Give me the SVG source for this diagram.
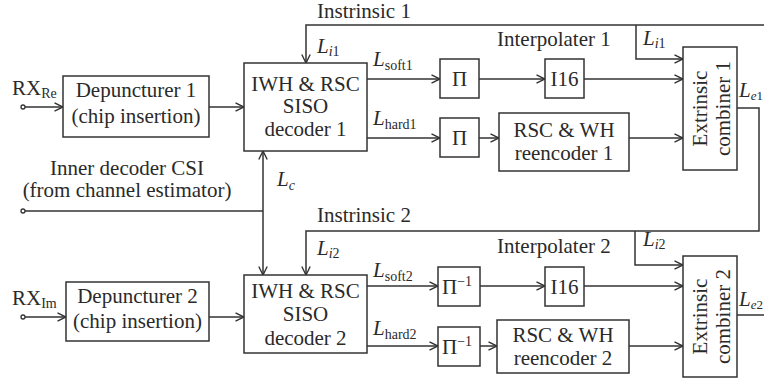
<svg xmlns="http://www.w3.org/2000/svg" width="764" height="381" viewBox="0 0 764 381" font-family="'Liberation Serif', 'DejaVu Serif', serif">
  <style>
    .box { fill: #ffffff; stroke: #333333; stroke-width: 1.5; }
    .w { fill: none; stroke: #333333; stroke-width: 1.5; }
    .a { marker-end: url(#arr); }
    .term { fill: #ffffff; stroke: #333333; stroke-width: 1.3; }
    text { font-family: 'Liberation Serif', 'DejaVu Serif', serif; font-size: 21px; fill: #2a2a2a; }
    .c { text-anchor: middle; }
    .it { font-style: italic; }
    .sub { font-size: 14px; }
    .sub-s { font-size: 13px; }
  </style>
  <defs>
    <marker id="arr" viewBox="0 0 10 10" refX="9.5" refY="5" markerWidth="10" markerHeight="10" markerUnits="userSpaceOnUse" orient="auto">
      <path d="M1,0.8 L9.5,5 L1,9.2" fill="none" stroke="#333333" stroke-width="1.4"/>
    </marker>
  </defs>

  <!-- connectors -->
  <g id="connectors">
    <path class="w a" d="M25,107 H63"/>
    <path class="w a" d="M209,107 H244"/>
    <path class="w a" d="M25,317 H66"/>
    <path class="w a" d="M209,317 H244"/>
    <path class="w" d="M25,211 H263"/>
    <path class="w a" d="M263,211 V151"/>
    <path class="w a" d="M263,211 V275"/>
    <path class="w a" d="M764,25 H306 V63"/>
    <path class="w a" d="M636,25 V59 H683"/>
    <path class="w a" d="M367,79 H440"/>
    <path class="w a" d="M479,79 H545"/>
    <path class="w a" d="M584,79 H683"/>
    <path class="w a" d="M367,138 H440"/>
    <path class="w a" d="M479,138 H499"/>
    <path class="w a" d="M629,138 H683"/>
    <path class="w a" d="M737,108 H759 V231 H306 V275"/>
    <path class="w a" d="M635,231 V265 H683"/>
    <path class="w a" d="M367,286 H438"/>
    <path class="w a" d="M480,286 H545"/>
    <path class="w a" d="M584,286 H683"/>
    <path class="w a" d="M367,346 H438"/>
    <path class="w a" d="M480,346 H497"/>
    <path class="w a" d="M629,346 H683"/>
    <path class="w" d="M737,315 H764"/>
    <circle class="term" cx="23" cy="107" r="2"/>
    <circle class="term" cx="23" cy="211" r="2"/>
    <circle class="term" cx="23" cy="317" r="2"/>
  </g>

  <!-- signal labels -->
  <g id="labels">
    <text x="12" y="95">RX<tspan class="sub" dy="3">Re</tspan></text>
    <text x="12" y="305">RX<tspan class="sub" dy="3">Im</tspan></text>
    <text class="c" x="127" y="175">Inner decoder CSI</text>
    <text class="c" x="127" y="197">(from channel estimator)</text>
    <text x="317" y="18">Instrinsic 1</text>
    <text x="317" y="222">Instrinsic 2</text>
    <text x="497" y="46">Interpolater 1</text>
    <text x="497" y="253">Interpolater 2</text>
    <text x="317" y="53"><tspan class="it">L</tspan><tspan class="sub" dy="3"><tspan class="it">i</tspan>1</tspan></text>
    <text x="643" y="45"><tspan class="it">L</tspan><tspan class="sub" dy="3"><tspan class="it">i</tspan>1</tspan></text>
    <text x="317" y="255"><tspan class="it">L</tspan><tspan class="sub" dy="3"><tspan class="it">i</tspan>2</tspan></text>
    <text x="643" y="246"><tspan class="it">L</tspan><tspan class="sub" dy="3"><tspan class="it">i</tspan>2</tspan></text>
    <text x="373" y="66"><tspan class="it">L</tspan><tspan class="sub" dy="4">soft1</tspan></text>
    <text x="373" y="125"><tspan class="it">L</tspan><tspan class="sub" dy="4">hard1</tspan></text>
    <text x="373" y="277"><tspan class="it">L</tspan><tspan class="sub" dy="4">soft2</tspan></text>
    <text x="373" y="335"><tspan class="it">L</tspan><tspan class="sub" dy="4">hard2</tspan></text>
    <text x="277" y="186"><tspan class="it">L</tspan><tspan class="sub it" dy="4">c</tspan></text>
    <text x="739" y="97"><tspan class="it">L</tspan><tspan class="sub-s" dy="3"><tspan class="it">e</tspan>1</tspan></text>
    <text x="739" y="306"><tspan class="it">L</tspan><tspan class="sub-s" dy="3"><tspan class="it">e</tspan>2</tspan></text>
  </g>

  <g id="depuncturer1">
    <rect class="box" x="63" y="76" width="146" height="61"/>
    <text class="c" x="136" y="97">Depuncturer 1</text>
    <text class="c" x="136" y="123">(chip insertion)</text>
  </g>
  <g id="depuncturer2">
    <rect class="box" x="66" y="282" width="143" height="59"/>
    <text class="c" x="137.5" y="303">Depuncturer 2</text>
    <text class="c" x="137.5" y="328">(chip insertion)</text>
  </g>

  <g id="decoder1">
    <rect class="box" x="244" y="63" width="123" height="88"/>
    <text class="c" x="305.5" y="91">IWH &amp; RSC</text>
    <text class="c" x="305.5" y="113">SISO</text>
    <text class="c" x="305.5" y="136">decoder 1</text>
  </g>
  <g id="decoder2">
    <rect class="box" x="244" y="275" width="123" height="78"/>
    <text class="c" x="305.5" y="298">IWH &amp; RSC</text>
    <text class="c" x="305.5" y="321">SISO</text>
    <text class="c" x="305.5" y="345">decoder 2</text>
  </g>

  <g id="interleaver-soft1">
    <rect class="box" x="440" y="59" width="39" height="39"/>
    <text class="c" x="459.5" y="86">Π</text>
  </g>
  <g id="interleaver-hard1">
    <rect class="box" x="440" y="118" width="39" height="39"/>
    <text class="c" x="459.5" y="145">Π</text>
  </g>
  <g id="deinterleaver-soft2">
    <rect class="box" x="438" y="267" width="42" height="39"/>
    <text x="442" y="294">Π<tspan class="sub" dy="-8">−1</tspan></text>
  </g>
  <g id="deinterleaver-hard2">
    <rect class="box" x="438" y="327" width="42" height="39"/>
    <text x="442" y="354">Π<tspan class="sub" dy="-8">−1</tspan></text>
  </g>

  <g id="interpolator1">
    <rect class="box" x="545" y="59" width="39" height="39"/>
    <text class="c" x="564.5" y="86">I16</text>
  </g>
  <g id="interpolator2">
    <rect class="box" x="545" y="267" width="39" height="39"/>
    <text class="c" x="564.5" y="294">I16</text>
  </g>

  <g id="reencoder1">
    <rect class="box" x="499" y="113" width="130" height="58"/>
    <text class="c" x="564" y="137">RSC &amp; WH</text>
    <text class="c" x="564" y="160">reencoder 1</text>
  </g>
  <g id="reencoder2">
    <rect class="box" x="497" y="320" width="132" height="53"/>
    <text class="c" x="563" y="342">RSC &amp; WH</text>
    <text class="c" x="563" y="365">reencoder 2</text>
  </g>

  <g id="combiner1">
    <rect class="box" x="683" y="47" width="54" height="123"/>
    <text class="c" transform="translate(707,108.5) rotate(-90)">Extrinsic</text>
    <text class="c" transform="translate(730,108.5) rotate(-90)">combiner 1</text>
  </g>
  <g id="combiner2">
    <rect class="box" x="683" y="256" width="54" height="121"/>
    <text class="c" transform="translate(707,316.5) rotate(-90)">Extrinsic</text>
    <text class="c" transform="translate(730,316.5) rotate(-90)">combiner 2</text>
  </g>
</svg>
